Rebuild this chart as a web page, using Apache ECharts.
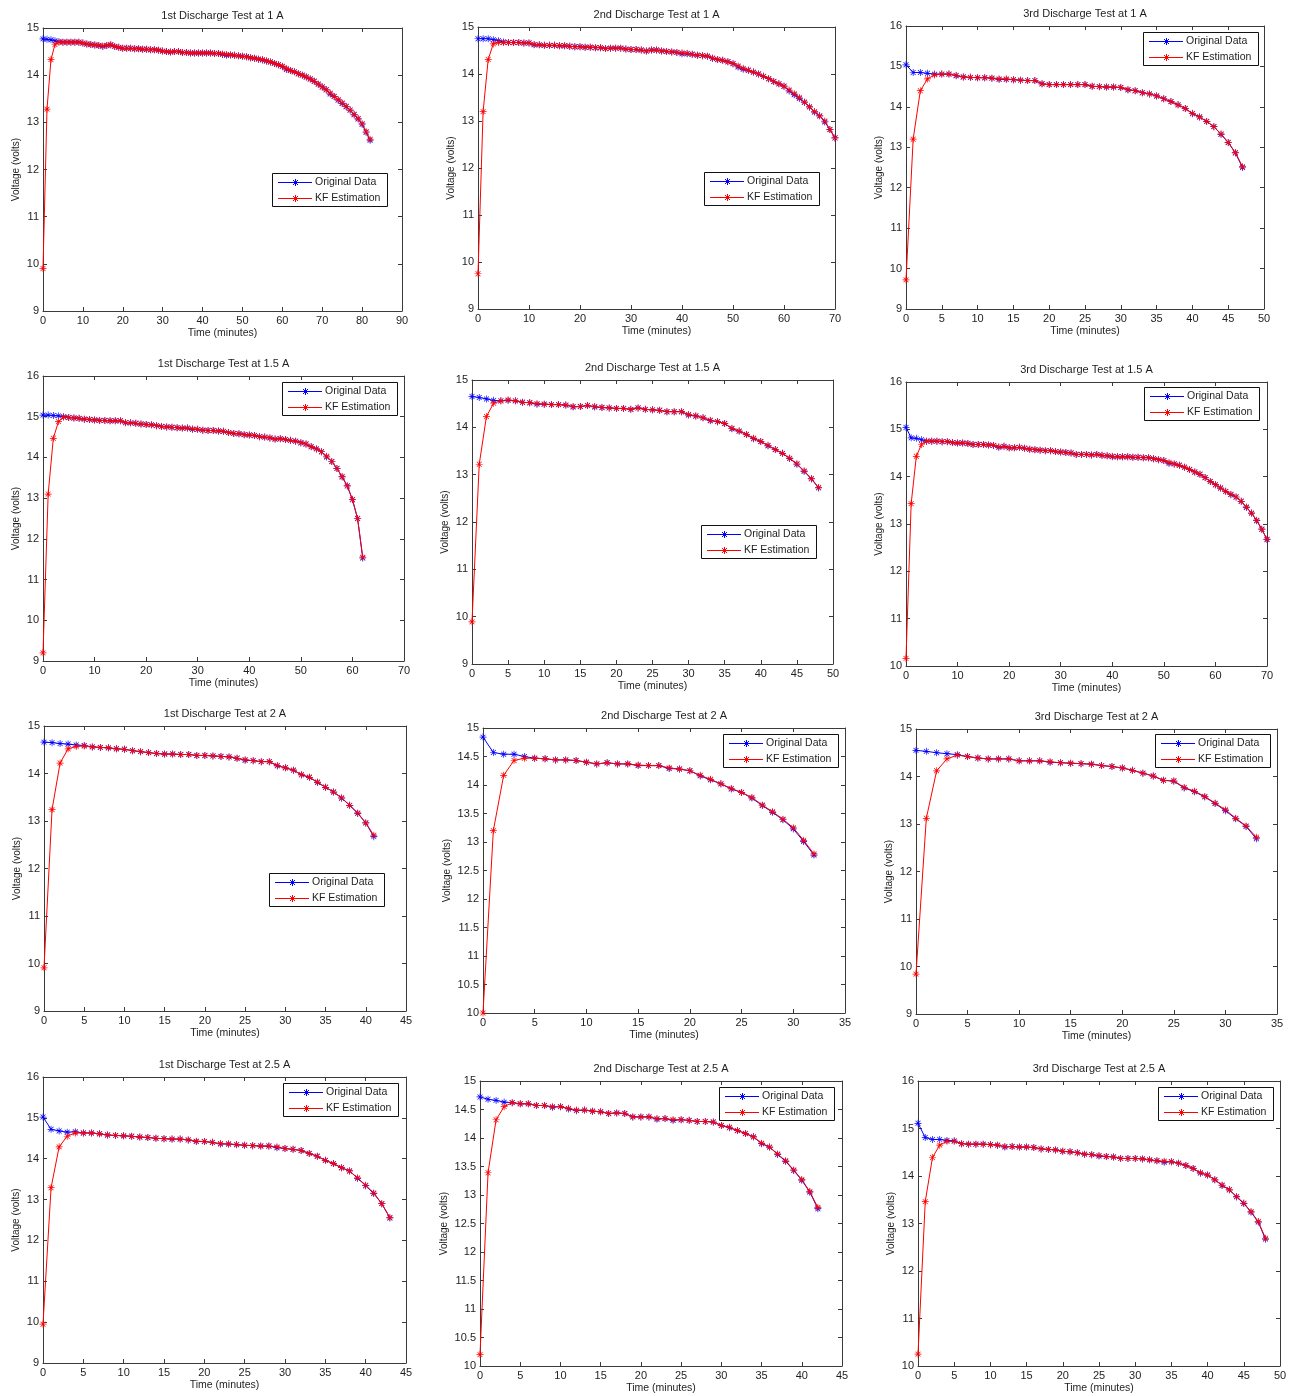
<!DOCTYPE html>
<html>
<head>
<meta charset="utf-8">
<title>Discharge tests: measured voltage and Kalman filter estimate</title>
<script src="https://cdn.jsdelivr.net/npm/echarts@6/dist/echarts.min.js"></script>
<style>
  html, body { margin: 0; padding: 0; background: #fff; }
  #chart { width: 1292px; height: 1396px; }
</style>
</head>
<body>
<div id="chart"></div>
<script>
// ---- Panel titles and axis ranges (row by row, left to right) ----
const titles = [
  '1st Discharge Test at 1 A', '2nd Discharge Test at 1 A', '3rd Discharge Test at 1 A',
  '1st Discharge Test at 1.5 A', '2nd Discharge Test at 1.5 A', '3rd Discharge Test at 1.5 A',
  '1st Discharge Test at 2 A', '2nd Discharge Test at 2 A', '3rd Discharge Test at 2 A',
  '1st Discharge Test at 2.5 A', '2nd Discharge Test at 2.5 A', '3rd Discharge Test at 2.5 A'
];
const xMax  = [90, 70, 50, 70, 50, 70, 45, 35, 35, 45, 45, 50];
const xStep = [10, 10, 5, 10, 5, 10, 5, 5, 5, 5, 5, 5];
const yMin  = [9, 9, 9, 9, 9, 10, 9, 10, 9, 9, 10, 10];
const yMax  = [15, 15, 16, 16, 15, 16, 15, 15, 15, 16, 15, 16];
const yStep = [1, 1, 1, 1, 1, 1, 1, 0.5, 1, 1, 0.5, 1];
const seriesNames = ['Original Data', 'KF Estimation'];
const seriesColors = ['#0000ff', '#ff0000'];

// ---- Voltage samples, one per minute starting at t = 0 ----
const orig_1A_1 = [14.77, 14.76, 14.75, 14.73, 14.71, 14.70, 14.70, 14.70, 14.70, 14.70,
  14.68, 14.66, 14.65, 14.64, 14.63, 14.61, 14.63, 14.64, 14.61, 14.59,
  14.57, 14.57, 14.57, 14.56, 14.56, 14.55, 14.55, 14.54, 14.54, 14.53,
  14.51, 14.50, 14.49, 14.50, 14.50, 14.48, 14.48, 14.47, 14.47, 14.47,
  14.47, 14.47, 14.47, 14.46, 14.46, 14.44, 14.42, 14.43, 14.42, 14.41,
  14.40, 14.39, 14.37, 14.36, 14.34, 14.32, 14.30, 14.28, 14.25, 14.22,
  14.18, 14.12, 14.10, 14.07, 14.03, 14.00, 13.96, 13.92, 13.87, 13.81,
  13.75, 13.69, 13.60, 13.55, 13.47, 13.40, 13.33, 13.26, 13.16, 13.07,
  12.96, 12.79, 12.62];
const kf_1A_1 = [9.90, 13.28, 14.33, 14.65, 14.70, 14.70, 14.70, 14.70, 14.70, 14.70,
  14.68, 14.66, 14.65, 14.64, 14.63, 14.62, 14.63, 14.65, 14.61, 14.59,
  14.57, 14.57, 14.57, 14.56, 14.56, 14.55, 14.55, 14.54, 14.54, 14.53,
  14.51, 14.50, 14.49, 14.50, 14.50, 14.48, 14.48, 14.47, 14.47, 14.47,
  14.47, 14.47, 14.47, 14.46, 14.46, 14.45, 14.44, 14.43, 14.42, 14.41,
  14.40, 14.39, 14.37, 14.36, 14.34, 14.33, 14.30, 14.28, 14.25, 14.22,
  14.19, 14.14, 14.10, 14.07, 14.03, 14.00, 13.96, 13.92, 13.87, 13.81,
  13.75, 13.69, 13.62, 13.55, 13.48, 13.41, 13.34, 13.26, 13.17, 13.08,
  12.97, 12.80, 12.64];

const orig_1A_2 = [14.75, 14.75, 14.75, 14.73, 14.71, 14.68, 14.67, 14.67, 14.67, 14.66,
  14.66, 14.62, 14.62, 14.61, 14.61, 14.61, 14.60, 14.60, 14.59, 14.58,
  14.58, 14.57, 14.57, 14.56, 14.56, 14.54, 14.55, 14.55, 14.55, 14.53,
  14.52, 14.52, 14.51, 14.49, 14.51, 14.51, 14.49, 14.48, 14.47, 14.46,
  14.43, 14.43, 14.42, 14.40, 14.39, 14.38, 14.33, 14.31, 14.29, 14.26,
  14.22, 14.15, 14.10, 14.08, 14.04, 14.00, 13.95, 13.90, 13.84, 13.79,
  13.74, 13.64, 13.56, 13.48, 13.40, 13.30, 13.19, 13.11, 12.98, 12.82,
  12.64];
const kf_1A_2 = [9.75, 13.20, 14.31, 14.64, 14.67, 14.67, 14.67, 14.67, 14.67, 14.66,
  14.66, 14.63, 14.62, 14.61, 14.61, 14.61, 14.60, 14.60, 14.59, 14.58,
  14.58, 14.57, 14.57, 14.56, 14.56, 14.54, 14.55, 14.55, 14.55, 14.53,
  14.52, 14.52, 14.51, 14.49, 14.51, 14.51, 14.49, 14.48, 14.47, 14.46,
  14.45, 14.44, 14.42, 14.40, 14.39, 14.38, 14.34, 14.31, 14.29, 14.26,
  14.22, 14.17, 14.12, 14.08, 14.04, 14.00, 13.95, 13.90, 13.84, 13.79,
  13.74, 13.66, 13.58, 13.50, 13.40, 13.30, 13.20, 13.11, 13.00, 12.82,
  12.64];

const orig_1A_3 = [15.04, 14.85, 14.85, 14.83, 14.81, 14.81, 14.81, 14.77, 14.74, 14.73,
  14.72, 14.72, 14.71, 14.68, 14.68, 14.67, 14.66, 14.65, 14.65, 14.57,
  14.55, 14.55, 14.55, 14.55, 14.55, 14.55, 14.51, 14.50, 14.49, 14.49,
  14.48, 14.42, 14.40, 14.35, 14.32, 14.27, 14.20, 14.13, 14.05, 13.96,
  13.83, 13.75, 13.64, 13.51, 13.32, 13.12, 12.86, 12.50];
const kf_1A_3 = [9.72, 13.20, 14.40, 14.69, 14.79, 14.81, 14.81, 14.78, 14.74, 14.73,
  14.72, 14.72, 14.71, 14.69, 14.69, 14.67, 14.66, 14.65, 14.65, 14.57,
  14.55, 14.55, 14.55, 14.55, 14.55, 14.55, 14.51, 14.50, 14.49, 14.49,
  14.48, 14.43, 14.40, 14.35, 14.32, 14.27, 14.20, 14.13, 14.05, 13.96,
  13.84, 13.75, 13.64, 13.51, 13.33, 13.12, 12.87, 12.52];

const orig_15A_1 = [15.04, 15.04, 15.03, 15.02, 15.00, 14.98, 14.97, 14.96, 14.94, 14.93,
  14.92, 14.91, 14.91, 14.90, 14.90, 14.90, 14.85, 14.85, 14.84, 14.82,
  14.81, 14.80, 14.78, 14.76, 14.75, 14.74, 14.73, 14.72, 14.72, 14.69,
  14.69, 14.67, 14.66, 14.66, 14.65, 14.64, 14.61, 14.59, 14.58, 14.56,
  14.55, 14.54, 14.51, 14.50, 14.48, 14.45, 14.46, 14.44, 14.42, 14.40,
  14.36, 14.33, 14.26, 14.21, 14.14, 14.01, 13.90, 13.73, 13.52, 13.30,
  12.96, 12.50, 11.53];
const kf_15A_1 = [9.20, 13.10, 14.47, 14.88, 14.99, 14.98, 14.97, 14.96, 14.94, 14.93,
  14.92, 14.91, 14.91, 14.90, 14.90, 14.90, 14.86, 14.85, 14.84, 14.82,
  14.81, 14.80, 14.78, 14.76, 14.75, 14.74, 14.73, 14.72, 14.72, 14.70,
  14.69, 14.67, 14.66, 14.66, 14.65, 14.64, 14.61, 14.59, 14.58, 14.56,
  14.55, 14.54, 14.51, 14.50, 14.48, 14.45, 14.46, 14.44, 14.42, 14.40,
  14.36, 14.33, 14.27, 14.21, 14.14, 14.03, 13.90, 13.73, 13.53, 13.30,
  12.97, 12.50, 11.55];

const orig_15A_2 = [14.65, 14.63, 14.60, 14.57, 14.56, 14.57, 14.56, 14.53, 14.52, 14.49,
  14.49, 14.48, 14.48, 14.47, 14.43, 14.44, 14.46, 14.43, 14.42, 14.41,
  14.40, 14.40, 14.38, 14.41, 14.38, 14.37, 14.36, 14.33, 14.33, 14.33,
  14.26, 14.24, 14.20, 14.14, 14.12, 14.08, 13.97, 13.92, 13.85, 13.76,
  13.70, 13.61, 13.53, 13.45, 13.34, 13.22, 13.07, 12.91, 12.72];
const kf_15A_2 = [9.89, 13.22, 14.23, 14.51, 14.56, 14.58, 14.56, 14.53, 14.52, 14.50,
  14.49, 14.48, 14.48, 14.47, 14.44, 14.44, 14.46, 14.44, 14.42, 14.41,
  14.40, 14.40, 14.38, 14.41, 14.38, 14.37, 14.36, 14.33, 14.33, 14.33,
  14.27, 14.24, 14.20, 14.15, 14.12, 14.08, 13.98, 13.92, 13.85, 13.77,
  13.70, 13.62, 13.53, 13.45, 13.35, 13.23, 13.08, 12.92, 12.73];

const orig_15A_3 = [15.04, 14.82, 14.81, 14.78, 14.75, 14.75, 14.75, 14.74, 14.74, 14.72,
  14.71, 14.71, 14.70, 14.68, 14.68, 14.68, 14.67, 14.66, 14.62, 14.64,
  14.61, 14.61, 14.62, 14.60, 14.58, 14.57, 14.56, 14.55, 14.55, 14.53,
  14.52, 14.51, 14.50, 14.47, 14.47, 14.47, 14.46, 14.47, 14.45, 14.44,
  14.42, 14.42, 14.42, 14.42, 14.41, 14.41, 14.40, 14.40, 14.38, 14.36,
  14.34, 14.28, 14.27, 14.24, 14.20, 14.15, 14.10, 14.05, 13.98, 13.90,
  13.83, 13.76, 13.69, 13.62, 13.57, 13.48, 13.35, 13.23, 13.07, 12.89,
  12.67];
const kf_15A_3 = [10.16, 13.43, 14.43, 14.68, 14.75, 14.75, 14.75, 14.74, 14.74, 14.72,
  14.71, 14.71, 14.70, 14.68, 14.68, 14.68, 14.67, 14.66, 14.63, 14.64,
  14.61, 14.61, 14.62, 14.60, 14.58, 14.57, 14.56, 14.55, 14.55, 14.53,
  14.52, 14.51, 14.50, 14.47, 14.47, 14.47, 14.46, 14.47, 14.45, 14.44,
  14.43, 14.42, 14.42, 14.42, 14.41, 14.41, 14.40, 14.40, 14.38, 14.36,
  14.34, 14.30, 14.27, 14.24, 14.20, 14.15, 14.10, 14.05, 13.98, 13.90,
  13.83, 13.76, 13.69, 13.63, 13.57, 13.48, 13.36, 13.23, 13.08, 12.89,
  12.68];

const orig_2A_1 = [14.66, 14.65, 14.63, 14.62, 14.60, 14.59, 14.56, 14.55, 14.54, 14.52,
  14.51, 14.48, 14.46, 14.44, 14.42, 14.41, 14.41, 14.40, 14.40, 14.38,
  14.38, 14.37, 14.36, 14.35, 14.32, 14.28, 14.27, 14.25, 14.25, 14.16,
  14.12, 14.07, 13.97, 13.92, 13.81, 13.71, 13.61, 13.48, 13.33, 13.16,
  12.96, 12.67];
const kf_2A_1 = [9.91, 13.24, 14.22, 14.52, 14.57, 14.58, 14.56, 14.55, 14.54, 14.52,
  14.51, 14.48, 14.46, 14.44, 14.42, 14.41, 14.41, 14.40, 14.40, 14.38,
  14.38, 14.37, 14.36, 14.35, 14.32, 14.29, 14.27, 14.25, 14.25, 14.17,
  14.12, 14.07, 13.98, 13.92, 13.82, 13.71, 13.61, 13.49, 13.33, 13.17,
  12.96, 12.70];

const orig_2A_2 = [14.84, 14.57, 14.54, 14.54, 14.50, 14.47, 14.46, 14.44, 14.44, 14.43,
  14.40, 14.37, 14.39, 14.37, 14.37, 14.34, 14.34, 14.34, 14.29, 14.28,
  14.25, 14.16, 14.09, 14.02, 13.93, 13.87, 13.77, 13.64, 13.52, 13.39,
  13.23, 13.01, 12.77];
const kf_2A_2 = [10.00, 13.20, 14.17, 14.43, 14.47, 14.47, 14.46, 14.44, 14.44, 14.43,
  14.40, 14.37, 14.39, 14.37, 14.37, 14.35, 14.34, 14.34, 14.30, 14.28,
  14.25, 14.17, 14.10, 14.02, 13.94, 13.87, 13.78, 13.65, 13.53, 13.40,
  13.25, 13.03, 12.79];

const orig_2A_3 = [14.55, 14.53, 14.50, 14.48, 14.46, 14.42, 14.39, 14.37, 14.37, 14.37,
  14.33, 14.33, 14.33, 14.30, 14.29, 14.28, 14.27, 14.26, 14.23, 14.21,
  14.18, 14.13, 14.07, 14.01, 13.92, 13.90, 13.76, 13.68, 13.57, 13.43,
  13.28, 13.11, 12.95, 12.69];
const kf_2A_3 = [9.84, 13.12, 14.12, 14.37, 14.45, 14.42, 14.39, 14.37, 14.37, 14.37,
  14.33, 14.33, 14.33, 14.31, 14.29, 14.28, 14.27, 14.26, 14.23, 14.21,
  14.18, 14.13, 14.07, 14.01, 13.92, 13.91, 13.77, 13.69, 13.58, 13.44,
  13.30, 13.12, 12.96, 12.72];

const orig_25A_1 = [15.02, 14.72, 14.68, 14.65, 14.66, 14.63, 14.63, 14.61, 14.58, 14.57,
  14.56, 14.55, 14.53, 14.52, 14.50, 14.49, 14.48, 14.48, 14.46, 14.42,
  14.42, 14.40, 14.36, 14.36, 14.34, 14.33, 14.32, 14.31, 14.31, 14.27,
  14.25, 14.23, 14.20, 14.13, 14.06, 13.96, 13.88, 13.78, 13.70, 13.52,
  13.34, 13.15, 12.90, 12.55];
const kf_25A_1 = [9.95, 13.29, 14.29, 14.55, 14.63, 14.63, 14.63, 14.61, 14.58, 14.57,
  14.56, 14.55, 14.53, 14.52, 14.50, 14.49, 14.48, 14.48, 14.46, 14.43,
  14.42, 14.40, 14.37, 14.36, 14.35, 14.33, 14.32, 14.31, 14.31, 14.29,
  14.25, 14.23, 14.20, 14.13, 14.06, 13.96, 13.88, 13.78, 13.70, 13.53,
  13.35, 13.16, 12.90, 12.56];

const orig_25A_2 = [14.72, 14.68, 14.66, 14.63, 14.62, 14.60, 14.60, 14.57, 14.57, 14.54,
  14.55, 14.51, 14.48, 14.49, 14.47, 14.46, 14.43, 14.44, 14.43, 14.37,
  14.37, 14.37, 14.33, 14.34, 14.31, 14.32, 14.31, 14.29, 14.29, 14.28,
  14.22, 14.18, 14.13, 14.08, 14.02, 13.90, 13.84, 13.71, 13.59, 13.43,
  13.26, 13.05, 12.76];
const kf_25A_2 = [10.20, 13.39, 14.32, 14.55, 14.62, 14.60, 14.60, 14.57, 14.57, 14.55,
  14.55, 14.52, 14.49, 14.49, 14.47, 14.46, 14.43, 14.44, 14.43, 14.37,
  14.37, 14.37, 14.34, 14.34, 14.32, 14.32, 14.31, 14.29, 14.29, 14.28,
  14.22, 14.19, 14.13, 14.08, 14.02, 13.91, 13.84, 13.72, 13.60, 13.44,
  13.27, 13.06, 12.78];

const orig_25A_3 = [15.11, 14.81, 14.77, 14.77, 14.75, 14.74, 14.68, 14.67, 14.67, 14.67,
  14.66, 14.65, 14.61, 14.62, 14.61, 14.61, 14.60, 14.57, 14.56, 14.55,
  14.52, 14.51, 14.49, 14.46, 14.45, 14.42, 14.41, 14.40, 14.37, 14.37,
  14.37, 14.36, 14.34, 14.32, 14.29, 14.30, 14.27, 14.22, 14.16, 14.06,
  14.02, 13.92, 13.80, 13.71, 13.56, 13.42, 13.24, 13.03, 12.67];
const kf_25A_3 = [10.25, 13.46, 14.39, 14.65, 14.73, 14.73, 14.68, 14.67, 14.67, 14.67,
  14.66, 14.65, 14.62, 14.62, 14.61, 14.61, 14.60, 14.57, 14.56, 14.55,
  14.52, 14.51, 14.49, 14.46, 14.45, 14.43, 14.41, 14.40, 14.37, 14.37,
  14.37, 14.36, 14.34, 14.32, 14.31, 14.30, 14.27, 14.22, 14.16, 14.07,
  14.02, 13.92, 13.81, 13.71, 13.57, 13.43, 13.25, 13.04, 12.69];

const originalSets = [orig_1A_1, orig_1A_2, orig_1A_3, orig_15A_1, orig_15A_2, orig_15A_3,
  orig_2A_1, orig_2A_2, orig_2A_3, orig_25A_1, orig_25A_2, orig_25A_3];
const kfSets = [kf_1A_1, kf_1A_2, kf_1A_3, kf_15A_1, kf_15A_2, kf_15A_3,
  kf_2A_1, kf_2A_2, kf_2A_3, kf_25A_1, kf_25A_2, kf_25A_3];

// ---- Layout: plot boxes [left, top, width, height] and legend corners ----
const plotBoxes = [
  [43, 28, 359, 283], [478, 27, 357, 282], [906, 26, 358, 283],
  [43, 376, 361, 285], [472, 380, 361, 284], [906, 382, 361, 284],
  [44, 726, 362, 285], [483, 728, 362, 285], [916, 729, 361, 285],
  [43, 1077, 363, 286], [480, 1081, 362, 285], [918, 1081, 362, 285]
];
const legendCorners = [
  [272, 173], [704, 172], [1143, 32],
  [282, 382], [701, 525], [1144, 387],
  [269, 873], [723, 734], [1155, 734],
  [283, 1083], [719, 1087], [1158, 1087]
];

const FONT = '"Liberation Sans", Arial, Helvetica, sans-serif';
const TEXT = '#1e1e1e';
const FRAME = '#3a3a3a';
// asterisk marker: vertical, horizontal and two diagonal strokes
const STAR = 'path://M4.5,0h1v10h-1z M0,4.5h10v1h-10z M1.85,1.15L8.85,8.15L8.15,8.85L1.15,1.85z M8.85,1.85L1.85,8.85L1.15,8.15L8.15,1.15z';

const grids = [], xAxes = [], yAxes = [], titleList = [], series = [], legendBoxes = [];

plotBoxes.forEach((b, i) => {
  grids.push({ left: b[0], top: b[1], width: b[2], height: b[3], outerBoundsMode: 'none', containLabel: false });

  const tick = { show: true, inside: true, length: 4, lineStyle: { color: FRAME } };
  const line = { show: true, onZero: false, lineStyle: { color: FRAME, width: 1 } };

  xAxes.push({
    type: 'value', gridIndex: i, position: 'bottom', min: 0, max: xMax[i], interval: xStep[i],
    axisLine: line, axisTick: tick, splitLine: { show: false },
    axisLabel: { color: TEXT, fontSize: 11, fontFamily: FONT, margin: 4 },
    name: 'Time (minutes)', nameLocation: 'middle', nameGap: 17,
    nameTextStyle: { color: TEXT, fontSize: 10.5, fontFamily: FONT }
  });
  xAxes.push({
    type: 'value', gridIndex: i, position: 'top', min: 0, max: xMax[i], interval: xStep[i],
    axisLine: line, axisTick: tick, splitLine: { show: false }, axisLabel: { show: false }
  });

  const halfSteps = yStep[i] < 1;
  yAxes.push({
    type: 'value', gridIndex: i, position: 'left', min: yMin[i], max: yMax[i], interval: yStep[i],
    axisLine: line, axisTick: tick, splitLine: { show: false },
    axisLabel: { color: TEXT, fontSize: 11, fontFamily: FONT, margin: 4 },
    name: 'Voltage (volts)', nameLocation: 'middle', nameGap: halfSteps ? 31 : 22,
    nameTextStyle: { color: TEXT, fontSize: 10, fontFamily: FONT }
  });
  yAxes.push({
    type: 'value', gridIndex: i, position: 'right', min: yMin[i], max: yMax[i], interval: yStep[i],
    axisLine: line, axisTick: tick, splitLine: { show: false }, axisLabel: { show: false }
  });

  titleList.push({
    text: titles[i], left: b[0] + b[2] / 2, top: b[1] - 18, textAlign: 'center', padding: 0,
    textStyle: { color: TEXT, fontSize: 11, fontWeight: 'normal', fontFamily: FONT }
  });

  const toPoints = arr => arr.map((v, k) => [k, v]);
  series.push({
    name: seriesNames[0], type: 'line', xAxisIndex: 2 * i, yAxisIndex: 2 * i,
    data: toPoints(originalSets[i]), symbol: STAR, symbolSize: 7, showSymbol: true,
    lineStyle: { color: seriesColors[0], width: 1 }, itemStyle: { color: seriesColors[0] },
    animation: false, z: 2
  });
  series.push({
    name: seriesNames[1], type: 'line', xAxisIndex: 2 * i, yAxisIndex: 2 * i,
    data: toPoints(kfSets[i]), symbol: STAR, symbolSize: 7, showSymbol: true,
    lineStyle: { color: seriesColors[1], width: 1 }, itemStyle: { color: seriesColors[1] },
    animation: false, z: 3
  });

  // legend box: framed, one row per series with a line key, asterisk and name
  const children = [{
    type: 'rect', shape: { x: 0.5, y: 0.5, width: 115, height: 33 },
    style: { fill: '#ffffff', stroke: '#111111', lineWidth: 1 }
  }];
  seriesNames.forEach((name, k) => {
    const cy = 9.5 + 16 * k, cx = 23.5;
    const ls = { stroke: seriesColors[k], lineWidth: 1 };
    children.push({ type: 'line', shape: { x1: 6, y1: cy, x2: 40, y2: cy }, style: ls });
    children.push({ type: 'line', shape: { x1: cx, y1: cy - 3.5, x2: cx, y2: cy + 3.5 }, style: ls });
    children.push({ type: 'line', shape: { x1: cx - 2.5, y1: cy - 2.5, x2: cx + 2.5, y2: cy + 2.5 }, style: ls });
    children.push({ type: 'line', shape: { x1: cx - 2.5, y1: cy + 2.5, x2: cx + 2.5, y2: cy - 2.5 }, style: ls });
    children.push({
      type: 'text', x: 43, y: cy,
      style: { text: name, fill: TEXT, fontSize: 10.5, fontFamily: FONT, align: 'left', verticalAlign: 'middle' }
    });
  });
  legendBoxes.push({ type: 'group', x: legendCorners[i][0], y: legendCorners[i][1], z: 100, children });
});

const chart = echarts.init(document.getElementById('chart'), null, { renderer: 'canvas' });
chart.setOption({
  backgroundColor: '#ffffff',
  animation: false,
  textStyle: { fontFamily: FONT },
  title: titleList,
  grid: grids,
  xAxis: xAxes,
  yAxis: yAxes,
  series: series,
  graphic: { elements: legendBoxes }
});
</script>
</body>
</html>
